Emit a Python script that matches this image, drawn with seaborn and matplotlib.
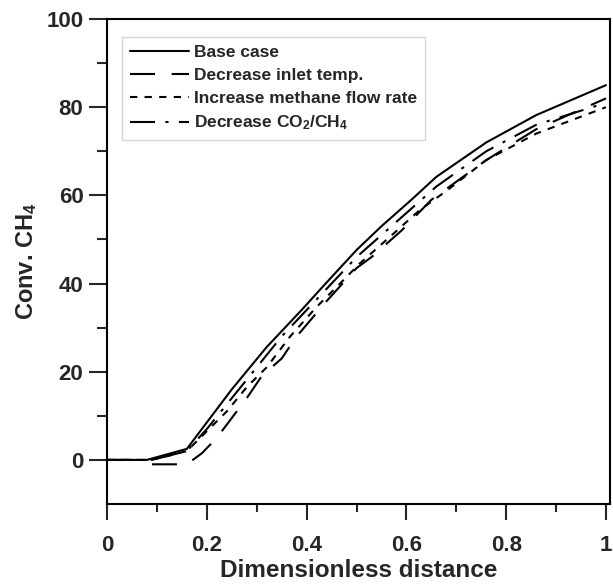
import numpy as np
import pandas as pd
import matplotlib
matplotlib.use("Agg")
import matplotlib.pyplot as plt
import seaborn as sns
from matplotlib.ticker import FixedLocator, FixedFormatter

sns.set_style("ticks")
plt.rcParams["font.family"] = ["Liberation Sans", "DejaVu Sans"]
plt.rcParams["font.weight"] = "bold"
plt.rcParams["mathtext.fontset"] = "custom"
plt.rcParams["mathtext.rm"] = "Liberation Sans:bold"
plt.rcParams["mathtext.default"] = "rm"

# Data
base_x = [0, 0.08, 0.16, 0.19, 0.25, 0.32, 0.39, 0.43, 0.50, 0.55, 0.61, 0.66, 0.76, 0.86, 1.0]
base_y = [0, 0, 2.5, 7, 16, 25.6, 34, 39, 47.6, 53, 59, 64.2, 72, 78.2, 85]

temp_x = [0.09, 0.16, 0.19, 0.22, 0.25, 0.28, 0.31, 0.35, 0.38, 0.41, 0.44, 0.50, 0.53, 0.59, 0.65, 0.76, 0.86, 1.0]
temp_y = [-1, -1, 1.5, 5, 9.5, 14, 19, 23, 28, 32, 36, 43.5, 46, 52, 59, 68, 75, 82]

flow_x = [0, 0.09, 0.16, 0.20, 0.24, 0.28, 0.32, 0.367, 0.42, 0.467, 0.507, 0.567, 0.627, 0.68, 0.76, 0.86, 1.0]
flow_y = [0, 0, 2, 6.5, 11, 16.5, 21, 28, 34.7, 40, 44.6, 50.6, 56.7, 61, 68, 74, 80]

co2_x = [0, 0.09, 0.16, 0.20, 0.25, 0.30, 0.35, 0.40, 0.45, 0.50, 0.55, 0.60, 0.66, 0.76, 0.86, 1.0]
co2_y = [0, 0, 2, 7, 14, 21, 28, 34, 40, 46, 51, 56, 62, 70, 76, 81]

series = [
    ("Base case", base_x, base_y, "-"),
    ("Decrease inlet temp.", temp_x, temp_y, (0, (12, 8))),
    ("Increase methane flow rate", flow_x, flow_y, (0, (3.5, 3.5))),
    ("Decrease CO$_2$/CH$_4$", co2_x, co2_y, (0, (12, 5, 1.5, 5))),
]

fig = plt.figure(figsize=(6.13, 5.85), dpi=100)
ax = fig.add_axes([0.1746, 0.1385, 0.8205, 0.829])

for name, xs, ys, ls in series:
    d = pd.DataFrame({"x": xs, "y": ys})
    sns.lineplot(data=d, x="x", y="y", ax=ax, color="black", lw=1.5,
                 linestyle=ls, label=name, sort=False, estimator=None)

ax.set_xlim(0, 1.008)
ax.set_ylim(-10, 100)

ax.xaxis.set_major_locator(FixedLocator([0, 0.2, 0.4, 0.6, 0.8, 1.0]))
ax.xaxis.set_major_formatter(FixedFormatter(["0", "0.2", "0.4", "0.6", "0.8", "1"]))
ax.xaxis.set_minor_locator(FixedLocator([0.1, 0.3, 0.5, 0.7, 0.9]))
ax.yaxis.set_major_locator(FixedLocator([0, 20, 40, 60, 80, 100]))
ax.yaxis.set_minor_locator(FixedLocator([10, 30, 50, 70, 90]))

ax.tick_params(which="both", direction="out", width=1.5, labelsize=16)
ax.tick_params(axis="x", which="major", length=11.5, pad=11)
ax.tick_params(axis="x", which="minor", length=6)
ax.tick_params(axis="y", which="major", length=13, pad=4)
ax.tick_params(axis="y", which="minor", length=7)
for s in ax.spines.values():
    s.set_linewidth(1.5)
    s.set_color("black")

ax.set_xlabel("Dimensionless distance", fontsize=17.5, fontweight="bold", labelpad=2)
ax.set_ylabel("Conv. CH$_4$", fontsize=17, fontweight="bold", labelpad=5)

leg = ax.legend(loc="upper left", bbox_to_anchor=(0.03, 0.963), fontsize=12.5,
                handlelength=3.4, handletextpad=0.3, labelspacing=0.45,
                frameon=True, fancybox=False, edgecolor="#cccccc",
                borderpad=0.45, borderaxespad=0)
leg.get_frame().set_linewidth(1.0)
for t in leg.get_texts():
    t.set_fontweight("bold")

fig.savefig("out.png", dpi=100)
